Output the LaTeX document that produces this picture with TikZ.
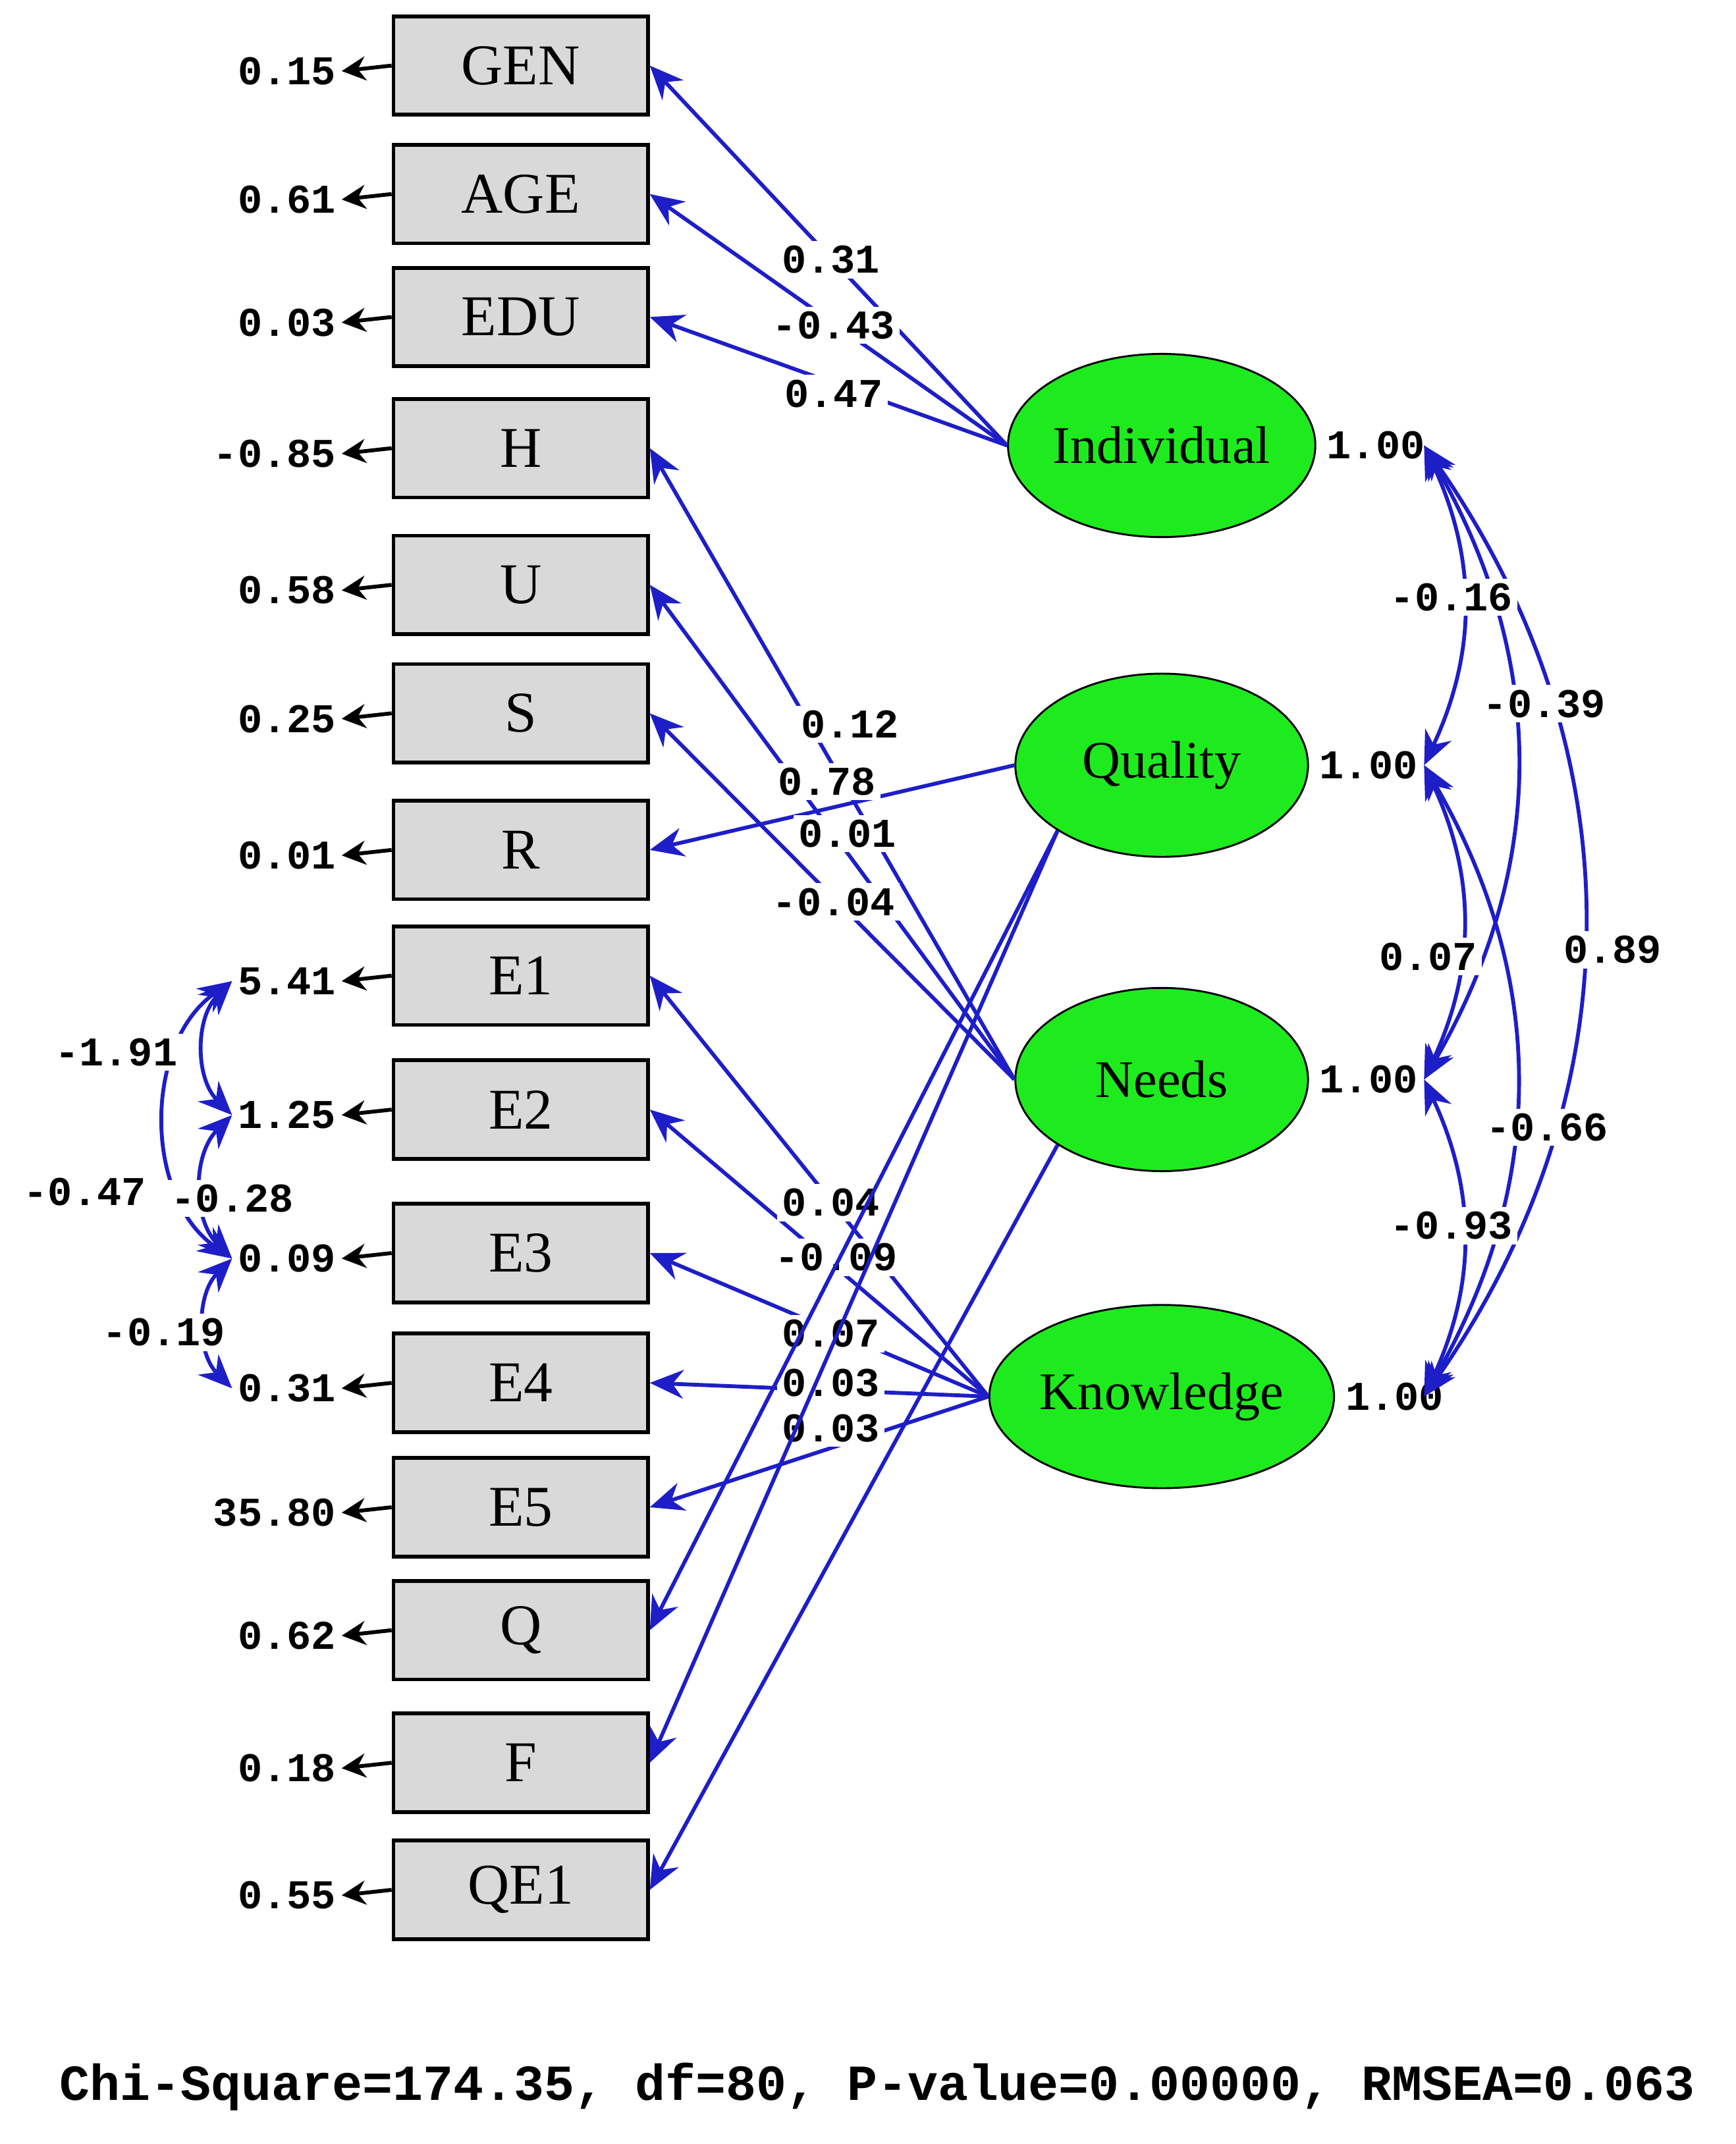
\documentclass[tikz,border=0pt]{standalone}
\usepackage{fontspec}
\setmainfont{Liberation Serif}
\newfontfamily\numfont{Liberation Mono}
\usetikzlibrary{positioning,shapes.geometric,arrows.meta}
\definecolor{pathblue}{RGB}{30,30,200}
\definecolor{latgreen}{RGB}{30,235,30}
\begin{document}
\begin{tikzpicture}[x=0.01cm,y=-0.01cm]
	\tikzset{obs/.style={rectangle,draw,thick,fill=gray!30,minimum width=1.86cm,minimum height=0.72cm,font=\fontsize{12}{14}\selectfont},
		lat/.style={ellipse,draw,fill=latgreen,inner sep=0pt,minimum width=2.14cm,minimum height=1.34cm,font=\fontsize{11}{13}\selectfont},
		val/.style={font=\numfont\bfseries\fontsize{8.5}{10}\selectfont,inner sep=1pt,fill=white},
		path/.style={draw=pathblue,thick,-{Stealth[length=7pt,width=6pt]}},
		cov/.style={draw=pathblue,thick,{Stealth[length=7pt,width=6pt]}-{Stealth[length=7pt,width=6pt]}},
		err/.style={draw=black,thick,-{Stealth[length=5pt,width=5pt]}}}
	\useasboundingbox (0,0) rectangle (1270,1569);
	% observed variables and error variances
	\foreach \n/\y/\v in {GEN/48/0.15,AGE/142/0.61,EDU/232/0.03,H/328/-0.85,U/428/0.58,S/522/0.25,R/622/0.01,E1/714/5.41,E2/812/1.25,E3/917/0.09,E4/1012/0.31,E5/1103/35.80,Q/1193/0.62,F/1290/0.18,QE1/1383/0.55}{
		\node[obs] (\n) at (381,\y) {\n};
		\node[val,anchor=east] (e\n) at (250,\y+4) {\v};
		\draw[err] (\n.west) -- (e\n.east);
	}
	% latent variables
	\node[lat] (Ind) at (850,326) {Individual};
	\node[lat] (Qua) at (850,560) {Quality};
	\node[lat] (Nee) at (850,790) {Needs};
	\node[lat] (Kno) at (850,1022) {Knowledge};
	\foreach \l in {Ind,Qua,Nee,Kno}{
		\node[val,anchor=west] (v\l) at ([xshift=1pt]\l.east) {1.00};
	}
	% loadings
	\draw[path] (Ind.west) -- (GEN.east);
	\draw[path] (Ind.west) -- (AGE.east);
	\draw[path] (Ind.west) -- (EDU.east);
	\node[val] (lGEN) at (608,190) {0.31};
	\node[val] (lAGE) at (610,238) {-0.43};
	\node[val] (lEDU) at (610,288) {0.47};
	\draw[path] (Nee.west) -- (H.east);
	\draw[path] (Nee.west) -- (U.east);
	\draw[path] (Nee.west) -- (S.east);
	\draw[path] (Qua.west) -- (R.east);
	\node[val] (lH) at (622,530) {0.12};
	\node[val] (lR) at (605,572) {0.78};
	\node[val] (lU) at (620,610) {0.01};
	\node[val] (lS) at (610,660) {-0.04};
	\foreach \n in {E1,E2,E3,E4,E5}{
		\draw[path] (Kno.west) -- (\n.east);
	}
	\node[val] (lE1) at (608,880) {0.04};
	\node[val] (lE2) at (612,920) {-0.09};
	\node[val] (lE3) at (608,976) {0.07};
	\node[val] (lE4) at (608,1012) {0.03};
	\node[val] (lE5) at (608,1045) {0.03};
	\draw[path] (Qua.south west) -- (Q.east);
	\draw[path] (Qua.south west) -- (F.east);
	\draw[path] (Nee.south west) -- (QE1.east);
	% latent covariances
	\foreach \l/\y in {Ind/326,Qua/560,Nee/790,Kno/1022}{
		\coordinate (c\l) at (1042,\y);
	}
	\draw[cov] (cInd) to[bend left=25] (cQua);
	\draw[cov] (cInd) to[bend left=30] (cNee);
	\draw[cov] (cInd) to[bend left=35] (cKno);
	\draw[cov] (cQua) to[bend left=25] (cNee);
	\draw[cov] (cQua) to[bend left=30] (cKno);
	\draw[cov] (cNee) to[bend left=25] (cKno);
	\node[val] (rIQ) at (1062,437) {-0.16};
	\node[val] (rIN) at (1130,515) {-0.39};
	\node[val] (rIK) at (1180,695) {0.89};
	\node[val] (rQN) at (1045,700) {0.07};
	\node[val] (rQK) at (1132,825) {-0.66};
	\node[val] (rNK) at (1062,897) {-0.93};
	% error covariances
	\draw[cov] (eE1.west) to[bend right=45] (eE2.west);
	\draw[cov] (eE1.west) to[bend right=55] (eE3.west);
	\draw[cov] (eE2.west) to[bend right=45] (eE3.west);
	\draw[cov] (eE3.west) to[bend right=45] (eE4.west);
	\node[val] (rE12) at (85,770) {-1.91};
	\node[val] (rE13) at (62,872) {-0.47};
	\node[val] (rE23) at (170,877) {-0.28};
	\node[val] (rE34) at (120,975) {-0.19};
	% fit statistics
	\node[font=\numfont\bfseries\fontsize{10.5}{13}\selectfont] (fit) at (642,1527) {Chi-Square=174.35, df=80, P-value=0.00000, RMSEA=0.063};
\end{tikzpicture}
\end{document}
